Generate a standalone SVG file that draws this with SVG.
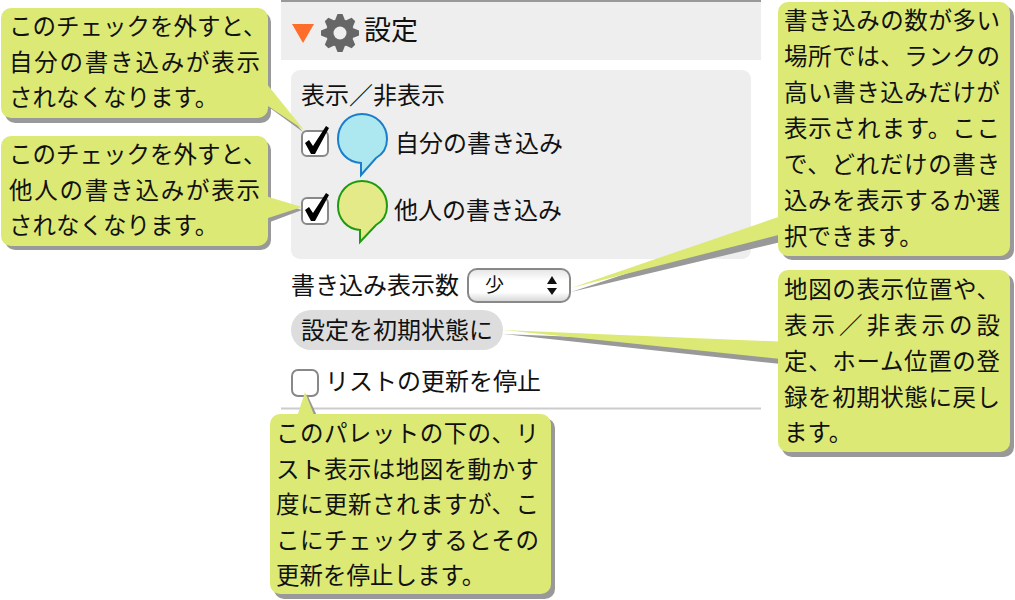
<svg xmlns="http://www.w3.org/2000/svg" width="1015" height="600" viewBox="0 0 1015 600">
<style>
text{font-family:"Noto Sans CJK JP","Noto Sans CJK SC",sans-serif;fill:#111}
.t{font-size:23.500px}
.n{font-size:24px}
.c{fill:#dde975}
.s{fill:#999}
.cb{fill:#fff;stroke:#888;stroke-width:2}
.ck{fill:#000;stroke:#000;stroke-width:.6;stroke-linejoin:round}
.g{fill:#666}
</style>
<defs>
<linearGradient id="sel" x1="0" y1="0" x2="0" y2="1"><stop offset="0" stop-color="#e4e4e4"/><stop offset=".35" stop-color="#fff"/><stop offset=".7" stop-color="#fff"/><stop offset="1" stop-color="#d4d4d4"/></linearGradient>
<path id="tooth" d="M-4.500,-14 L-2.500,-19 L2.500,-19 L4.500,-14 L4.500,14 L2.500,19 L-2.500,19 L-4.500,14 Z"/>
<path id="check" d="M305,143 L309,140 L313,146 L326,126 L329,128 L315,154 L311,154 Z"/>
</defs>
<g id="panel">
<rect x="281" y="0" width="480" height="60" fill="#eee"/>
<rect x="281" y="0" width="480" height="2" fill="#999"/>
<path d="M292,24 L314,24 L303,43 Z" fill="#ff6d2a"/>
<g transform="translate(340,33)"><circle class="g" r="14"/><use class="g" href="#tooth"/><use class="g" href="#tooth" transform="rotate(45)"/><use class="g" href="#tooth" transform="rotate(90)"/><use class="g" href="#tooth" transform="rotate(135)"/><circle r="6.500" fill="#eee"/></g>
<text x="364" y="40" style="font-size:27px">設定</text>
<rect x="291" y="70" width="460" height="189" rx="9" fill="#eee"/>
<text class="n" x="301" y="104">表示／非表示</text>
<rect x="281" y="407.500" width="480" height="2" fill="#ccc"/>
</g>
<g id="show-mine">
<rect class="cb" x="302" y="131" width="26" height="25" rx="5"/>
<use href="#check"/>
<path d="M387,139 C387,125 376,114 362,114 C348,114 338,125 338,139 C338,152 347,162 361,163 L361,175 L376,158 C383,154 387,147 387,139 Z" fill="#ade8f0" stroke="#1a7ecb" stroke-width="2"/>
<text class="n" x="395" y="152">自分の書き込み</text>
</g>
<g id="show-others">
<rect class="cb" x="302" y="198" width="26" height="26" rx="5"/>
<use href="#check" y="67"/>
<path d="M387,206 C387,192 376,181 362,181 C348,181 338,192 338,206 C338,219 347,229 360,230 L360,242 L376,225 C383,221 387,214 387,206 Z" fill="#e4ea88" stroke="#1f9a10" stroke-width="2"/>
<text class="n" x="394" y="219">他人の書き込み</text>
</g>
<g id="count">
<text class="n" x="291" y="294">書き込み表示数</text>
<rect x="468" y="269" width="102" height="33" rx="9" fill="url(#sel)" stroke="#888" stroke-width="2"/>
<text x="485" y="292" style="font-size:19px">少</text>
<path d="M547,284 L552,276 L557,284 Z M547,288 L552,295 L557,288 Z" fill="#111"/>
</g>
<g id="reset">
<rect x="291" y="310" width="212" height="40" rx="20" fill="#ddd"/>
<text class="n" x="301" y="339">設定を初期状態に</text>
</g>
<g id="stop-update">
<rect class="cb" x="292" y="370" width="26" height="26" rx="6"/>
<text class="n" x="325" y="390">リストの更新を停止</text>
</g>
<g id="connectors">
<path class="s" d="M270,108 L303,132 L270,92 Z M270,222 L302,210 L270,200 Z M781,242 L571,292 L781,222 Z M781,364 L503,334 L781,345 Z M300,420 L307,394 L319,420 Z"/>
</g>
<g id="note-mine">
<rect class="s" x="5" y="12" width="266" height="111" rx="10"/>
<path class="c" d="M262,78 L304,130 L262,102 Z"/>
<rect class="c" x="1" y="8" width="267" height="110" rx="10"/>
<text class="t" x="9" y="35">このチェックを外すと、</text>
<text class="t" x="9" y="71" textLength="251">自分の書き込みが表示</text>
<text class="t" x="9" y="106">されなくなります。</text>
</g>
<g id="note-others">
<rect class="s" x="5" y="140" width="266" height="110" rx="10"/>
<path class="c" d="M262,195 L302,207 L262,220 Z"/>
<rect class="c" x="1" y="136" width="267" height="110" rx="10"/>
<text class="t" x="9" y="163">このチェックを外すと、</text>
<text class="t" x="9" y="199" textLength="251">他人の書き込みが表示</text>
<text class="t" x="9" y="234">されなくなります。</text>
</g>
<g id="note-count">
<rect class="s" x="782" y="6" width="232" height="254" rx="10"/>
<path class="c" d="M790,213 L571,288 L790,232 Z"/>
<rect class="c" x="778" y="2" width="232" height="254" rx="10"/>
<text class="t" x="784" y="29" textLength="216">書き込みの数が多い</text>
<text class="t" x="784" y="65" textLength="216">場所では、ランクの</text>
<text class="t" x="784" y="101" textLength="216">高い書き込みだけが</text>
<text class="t" x="784" y="137" textLength="216">表示されます。ここ</text>
<text class="t" x="784" y="173" textLength="216">で、どれだけの書き</text>
<text class="t" x="784" y="209" textLength="216">込みを表示するか選</text>
<text class="t" x="784" y="245">択できます。</text>
</g>
<g id="note-reset">
<rect class="s" x="782" y="274" width="232" height="183" rx="10"/>
<path class="c" d="M790,342 L503,330 L790,360 Z"/>
<rect class="c" x="778" y="270" width="232" height="182" rx="10"/>
<text class="t" x="784" y="298" textLength="216">地図の表示位置や、</text>
<text class="t" x="784" y="334" textLength="216">表示／非表示の設</text>
<text class="t" x="784" y="370" textLength="216">定、ホーム位置の登</text>
<text class="t" x="784" y="406" textLength="216">録を初期状態に戻し</text>
<text class="t" x="784" y="441">ます。</text>
</g>
<g id="note-stop">
<rect class="s" x="274" y="418" width="281" height="181" rx="10"/>
<path class="c" d="M296,420 L305,392 L316,420 Z"/>
<rect class="c" x="270" y="414" width="281" height="180" rx="10"/>
<text class="t" x="276" y="442" textLength="263">このパレットの下の、リ</text>
<text class="t" x="276" y="478" textLength="263">スト表示は地図を動かす</text>
<text class="t" x="276" y="513" textLength="263">度に更新されますが、こ</text>
<text class="t" x="276" y="549" textLength="263">こにチェックするとその</text>
<text class="t" x="276" y="584">更新を停止します。</text>
</g>
</svg>
